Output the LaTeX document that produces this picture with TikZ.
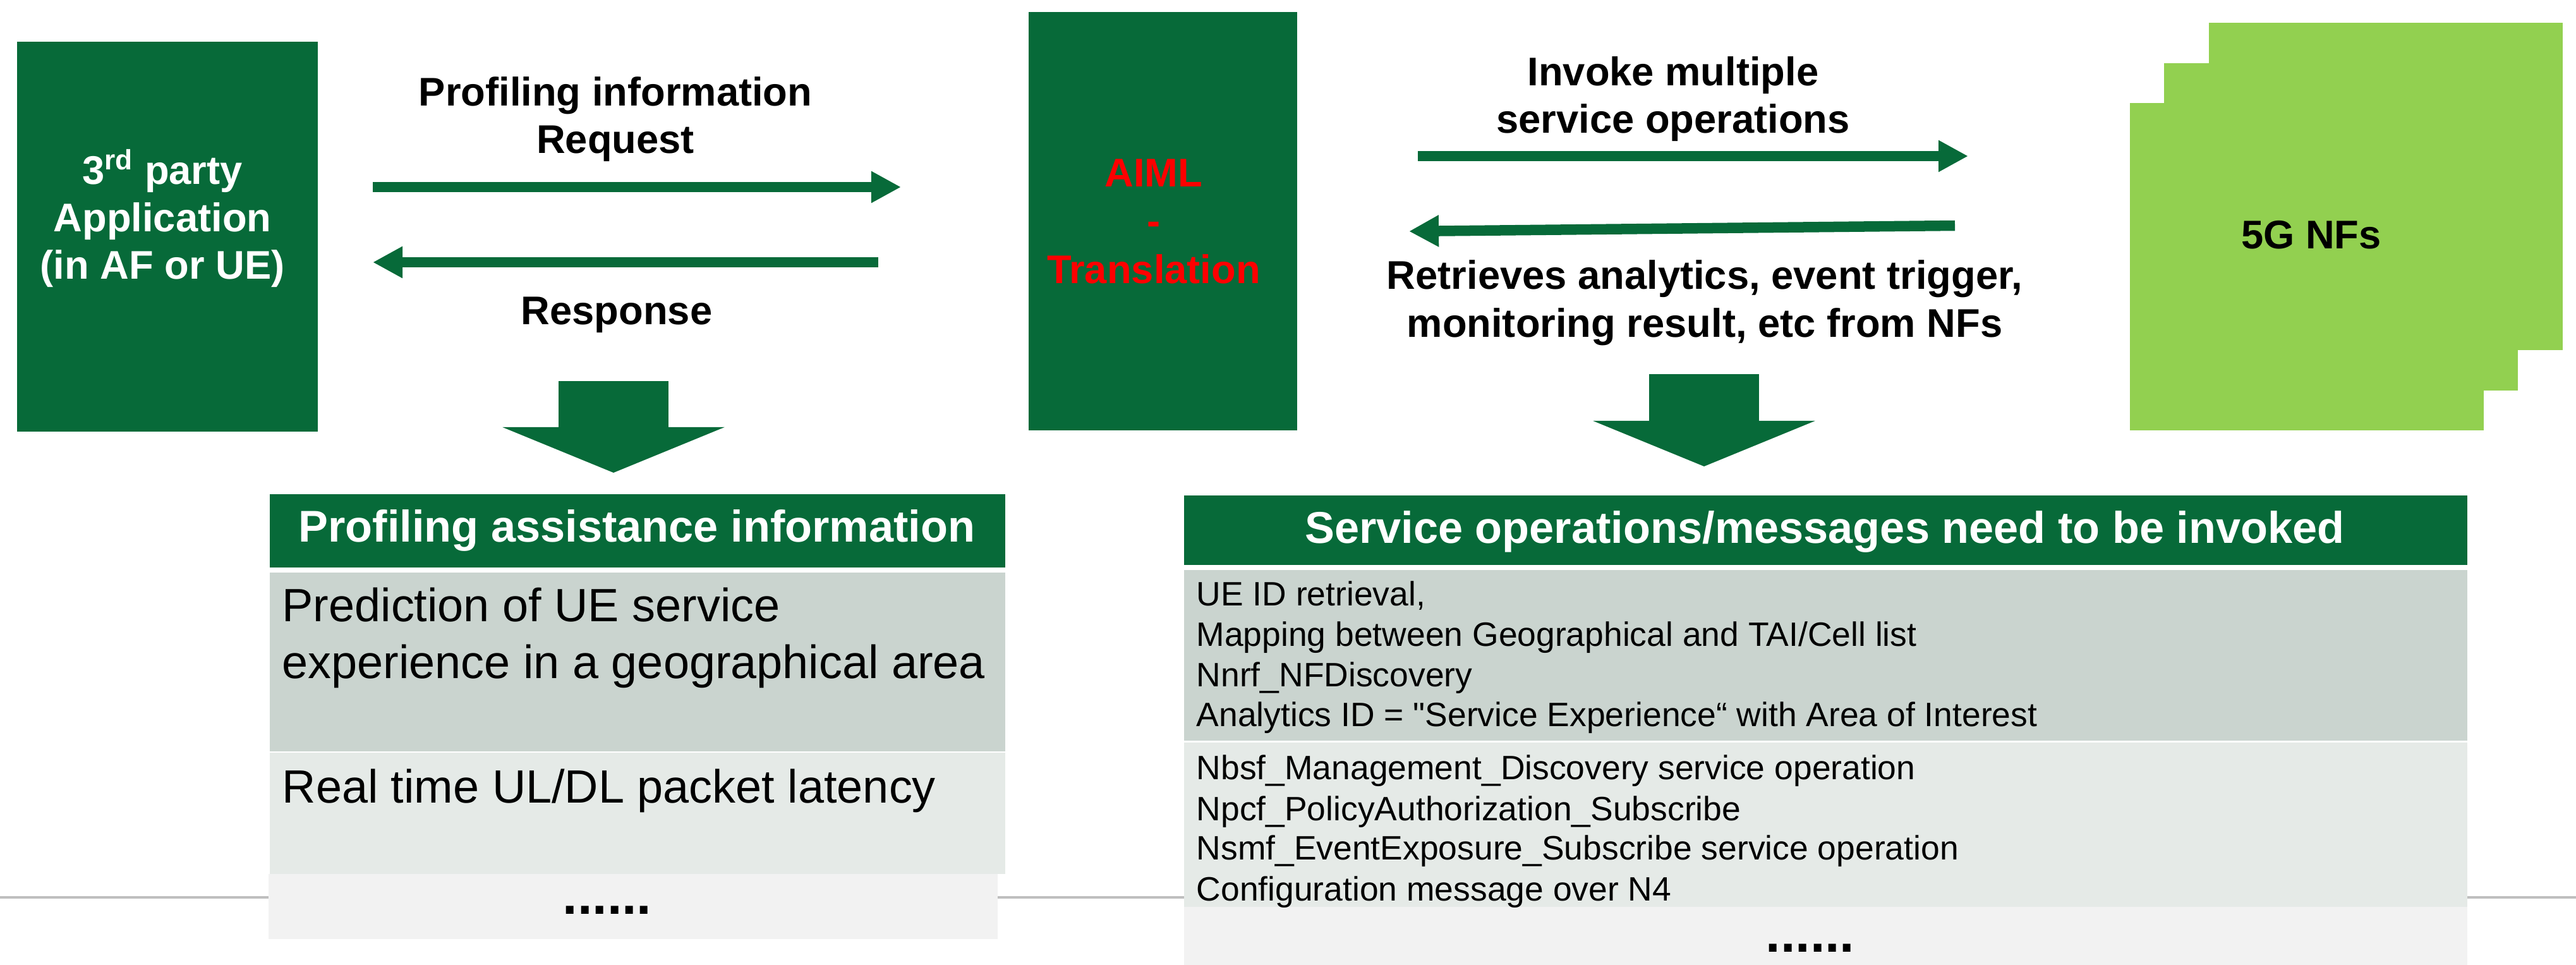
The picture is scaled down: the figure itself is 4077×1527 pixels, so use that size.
\documentclass[tikz,border=0pt]{standalone}
\usepackage{fontspec}
\setmainfont{Liberation Sans}
\usetikzlibrary{arrows.meta}

\definecolor{dkgreen}{RGB}{7,106,57}
\definecolor{ltgreen}{RGB}{146,208,80}
\definecolor{rowa}{RGB}{202,212,207}
\definecolor{rowb}{RGB}{229,234,231}
\definecolor{rowc}{RGB}{242,242,242}
\definecolor{rulegray}{RGB}{191,191,191}

\begin{document}
\begin{tikzpicture}[x=0.01cm,y=-0.01cm,inner sep=0pt,
		blk/.style={anchor=north west,fill=dkgreen},
		nf/.style={anchor=north west,fill=ltgreen,minimum width=5.6cm,minimum height=5.18cm},
		row/.style={anchor=north west},
		lbl/.style={anchor=base,font=\fontsize{18}{21}\selectfont\bfseries},
		big/.style={anchor=base,font=\fontsize{20}{23}\selectfont\bfseries},
		cella/.style={anchor=base west,font=\fontsize{21}{25}\selectfont},
		cellb/.style={anchor=base west,font=\fontsize{15.2}{18}\selectfont},
		dots/.style={anchor=base,font=\fontsize{24}{28}\selectfont\bfseries},
		harrow/.style={dkgreen,line width=0.165cm,-{Triangle[length=0.47cm,width=0.47cm]}},
		varrow/.style={dkgreen,line width=1.74cm,-{Triangle[length=0.72cm,width=3.49cm]}}]
	\useasboundingbox (0,0) rectangle (4077,1527);
	\draw[rulegray,line width=0.04cm] (0,1420) -- (4077,1420);

	% boxes on top
	\node[blk,minimum width=4.76cm,minimum height=6.17cm] (app) at (26,65) {};
	\node[blk,minimum width=4.25cm,minimum height=6.62cm] (aiml) at (1627,18) {};
	\node[nf] (nfc) at (3495,35) {};
	\node[nf] (nfb) at (3424,99) {};
	\node[nf] (nfa) at (3370,162) {};

	\node[lbl,white] (app1) at (257,291) {3\textsuperscript{rd} party};
	\node[lbl,white] (app2) at (257,366) {Application};
	\node[lbl,white] (app3) at (257,441) {(in AF or UE)};
	\node[lbl,red] (ai1) at (1826,295) {AIML};
	\node[lbl,red] (ai2) at (1826,371) {-};
	\node[lbl,red] (ai3) at (1826,448) {Translation};
	\node[lbl] (nftxt) at (3658,393) {5G NFs};

	\node[lbl] (req1) at (974,167) {Profiling information};
	\node[lbl] (req2) at (974,242) {Request};
	\node[lbl] (resp) at (976,513) {Response};
	\node[lbl] (inv1) at (2648,135) {Invoke multiple};
	\node[lbl] (inv2) at (2648,210) {service operations};
	\node[lbl] (ret1) at (2698,457) {Retrieves analytics, event trigger,};
	\node[lbl] (ret2) at (2698,533) {monitoring result, etc from NFs};

	% arrows
	\coordinate (reqs) at (590,296);  \coordinate (reqe) at (1426,296);
	\coordinate (ress) at (1390,415); \coordinate (rese) at (590,415);
	\coordinate (invs) at (2244,247); \coordinate (inve) at (3115,247);
	\coordinate (rets) at (3094,357); \coordinate (rete) at (2230,366);
	\coordinate (dla) at (971,603);   \coordinate (dlb) at (971,748);
	\coordinate (dra) at (2697,592);  \coordinate (drb) at (2697,738);
	\draw[harrow] (reqs) -- (reqe);
	\draw[harrow] (ress) -- (rese);
	\draw[harrow] (invs) -- (inve);
	\draw[harrow] (rets) -- (rete);
	\draw[varrow] (dla) -- (dlb);
	\draw[varrow] (dra) -- (drb);

	% left table
	\node[blk,minimum width=11.64cm,minimum height=1.16cm] (phead) at (426,781) {};
	\node[row,fill=rowa,minimum width=11.64cm,minimum height=2.83cm] (prow1) at (426,905) {};
	\node[row,fill=rowb,minimum width=11.64cm,minimum height=1.92cm] (prow2) at (426,1190) {};
	\node[row,fill=rowc,minimum width=11.54cm,minimum height=1.03cm] (prow3) at (424,1382) {};
	\node[big,white] (pheadtxt) at (1008,857) {Profiling assistance information};
	\node[cella] (p1a) at (446,983) {Prediction of UE service};
	\node[cella] (p1b) at (446,1073) {experience in a geographical area};
	\node[cella] (p2) at (446,1270) {Real time UL/DL packet latency};
	\node[dots] (pdots) at (961,1446) {......};

	% right table
	\node[blk,minimum width=20.3cm,minimum height=1.1cm] (shead) at (1873,783) {};
	\node[row,fill=rowa,minimum width=20.3cm,minimum height=2.7cm] (srow1) at (1873,901) {};
	\node[row,fill=rowb,minimum width=20.3cm,minimum height=2.6cm] (srow2) at (1873,1174) {};
	\node[row,fill=rowc,minimum width=20.3cm,minimum height=0.93cm] (srow3) at (1873,1434) {};
	\node[big,white] (sheadtxt) at (2888,859) {Service operations/messages need to be invoked};
	\node[cellb] (s1) at (1893,958) {UE ID retrieval,};
	\node[cellb] (s2) at (1893,1022) {Mapping between Geographical and TAI/Cell list};
	\node[cellb] (s3) at (1893,1086) {Nnrf\_NFDiscovery};
	\node[cellb] (s4) at (1893,1149) {Analytics ID = \textquotedbl Service Experience“ with Area of Interest};
	\node[cellb] (s5) at (1893,1233) {Nbsf\_Management\_Discovery service operation};
	\node[cellb] (s6) at (1893,1298) {Npcf\_PolicyAuthorization\_Subscribe};
	\node[cellb] (s7) at (1893,1360) {Nsmf\_EventExposure\_Subscribe service operation};
	\node[cellb] (s8) at (1893,1425) {Configuration message over N4};
	\node[dots] (sdots) at (2865,1506) {......};
\end{tikzpicture}
\end{document}
